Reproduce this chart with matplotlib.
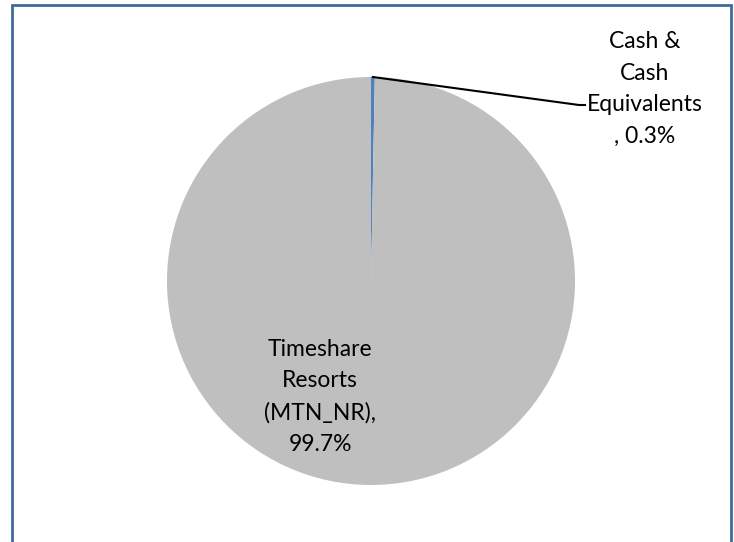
import matplotlib
matplotlib.use("Agg")
import matplotlib.pyplot as plt
from matplotlib.patches import Rectangle
import numpy as np

categories = ["Cash &\nCash\nEquivalents", "Timeshare\nResorts\n(MTN_NR)"]
values = [0.3, 99.7]
colors = ["#4F81BD", "#BFBFBF"]

W, H = 734, 542
fig = plt.figure(figsize=(W/100, H/100), dpi=100)
fig.patch.set_facecolor("white")

# outer border
fig.add_artist(Rectangle((12/W, -0.02), (731-12)/W, (H-5)/H + 0.02, transform=fig.transFigure,
                         fill=False, edgecolor="#41699A", linewidth=2))

cx, cy, r = 371, 281, 204
ax = fig.add_axes([(cx-r)/W, 1-(cy+r)/H, 2*r/W, 2*r/H])
wedges, _ = ax.pie(values, colors=colors, startangle=90, counterclock=False, radius=1,
                   wedgeprops=dict(linewidth=0))
ax.set_xlim(-1, 1); ax.set_ylim(-1, 1)
ax.set_aspect("equal")
ax.axis("off")

font = "Lato"
fs = 16.5
# cash label
lx, ly = 645/W, 1 - 89/H
fig.text(lx, ly, f"{categories[0]}\n, {values[0]}%", ha="center", va="center",
         fontsize=fs, family=font, linespacing=1.62)
# leader line from slice tip
ang = np.deg2rad(90 - values[0]/100*360/2)
px, py = np.cos(ang), np.sin(ang)
p0 = ax.transData.transform((px, py))
p0 = fig.transFigure.inverted().transform(p0)
fig.add_artist(plt.Line2D([p0[0], 579/W, 585/W], [p0[1], 1-105/H, 1-105/H],
                          transform=fig.transFigure, color="black", linewidth=1.5))

fig.text(320/W, 1-397/H, f"{categories[1]},\n{values[1]}%", ha="center", va="center",
         fontsize=fs, family=font, linespacing=1.62)

fig.savefig("out.png", dpi=100)
